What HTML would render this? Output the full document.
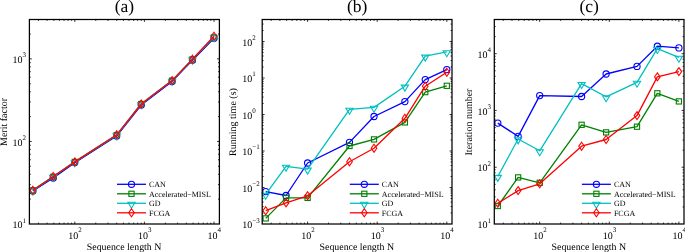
<!DOCTYPE html><html><head><meta charset="utf-8"><style>html,body{margin:0;padding:0;background:#fff;}svg{display:block;will-change:transform;}text{text-rendering:geometricPrecision;font-family:"Liberation Serif",serif;fill:#000;}</style></head><body>
<svg width="685" height="252" viewBox="0 0 685 252">
<rect width="685" height="252" fill="#fff"/>
<path d="M38.41,224.0v-1.4M38.41,19.5v1.4M47.10,224.0v-1.4M47.10,19.5v1.4M53.85,224.0v-1.4M53.85,19.5v1.4M59.36,224.0v-1.4M59.36,19.5v1.4M64.02,224.0v-1.4M64.02,19.5v1.4M68.06,224.0v-1.4M68.06,19.5v1.4M71.62,224.0v-1.4M71.62,19.5v1.4M74.80,224.0v-2.4M74.80,19.5v2.4M95.75,224.0v-1.4M95.75,19.5v1.4M108.01,224.0v-1.4M108.01,19.5v1.4M116.70,224.0v-1.4M116.70,19.5v1.4M123.45,224.0v-1.4M123.45,19.5v1.4M128.96,224.0v-1.4M128.96,19.5v1.4M133.62,224.0v-1.4M133.62,19.5v1.4M137.66,224.0v-1.4M137.66,19.5v1.4M141.22,224.0v-1.4M141.22,19.5v1.4M144.40,224.0v-2.4M144.40,19.5v2.4M165.35,224.0v-1.4M165.35,19.5v1.4M177.61,224.0v-1.4M177.61,19.5v1.4M186.30,224.0v-1.4M186.30,19.5v1.4M193.05,224.0v-1.4M193.05,19.5v1.4M198.56,224.0v-1.4M198.56,19.5v1.4M203.22,224.0v-1.4M203.22,19.5v1.4M207.26,224.0v-1.4M207.26,19.5v1.4M210.82,224.0v-1.4M210.82,19.5v1.4M214.00,224.0v-2.4M214.00,19.5v2.4M29.4,199.15h1.4M219.4,199.15h-1.4M29.4,184.61h1.4M219.4,184.61h-1.4M29.4,174.30h1.4M219.4,174.30h-1.4M29.4,166.30h1.4M219.4,166.30h-1.4M29.4,159.76h1.4M219.4,159.76h-1.4M29.4,154.23h1.4M219.4,154.23h-1.4M29.4,149.44h1.4M219.4,149.44h-1.4M29.4,145.22h1.4M219.4,145.22h-1.4M29.4,141.44h2.4M219.4,141.44h-2.4M29.4,116.59h1.4M219.4,116.59h-1.4M29.4,102.06h1.4M219.4,102.06h-1.4M29.4,91.74h1.4M219.4,91.74h-1.4M29.4,83.74h1.4M219.4,83.74h-1.4M29.4,77.20h1.4M219.4,77.20h-1.4M29.4,71.68h1.4M219.4,71.68h-1.4M29.4,66.89h1.4M219.4,66.89h-1.4M29.4,62.67h1.4M219.4,62.67h-1.4M29.4,58.89h2.4M219.4,58.89h-2.4M29.4,34.04h1.4M219.4,34.04h-1.4" stroke="#000" stroke-width="0.8" fill="none"/>
<path d="M32.90,191.00L53.24,178.00L74.80,162.60L116.70,136.00L141.22,105.00L172.10,81.40L192.44,60.20L214.00,38.30" stroke="#0000ff" stroke-width="1.3" fill="none" stroke-linejoin="round"/>
<circle cx="32.90" cy="191.00" r="3.1" fill="none" stroke="#0000ff" stroke-width="1.1"/><circle cx="53.24" cy="178.00" r="3.1" fill="none" stroke="#0000ff" stroke-width="1.1"/><circle cx="74.80" cy="162.60" r="3.1" fill="none" stroke="#0000ff" stroke-width="1.1"/><circle cx="116.70" cy="136.00" r="3.1" fill="none" stroke="#0000ff" stroke-width="1.1"/><circle cx="141.22" cy="105.00" r="3.1" fill="none" stroke="#0000ff" stroke-width="1.1"/><circle cx="172.10" cy="81.40" r="3.1" fill="none" stroke="#0000ff" stroke-width="1.1"/><circle cx="192.44" cy="60.20" r="3.1" fill="none" stroke="#0000ff" stroke-width="1.1"/><circle cx="214.00" cy="38.30" r="3.1" fill="none" stroke="#0000ff" stroke-width="1.1"/>
<path d="M32.90,190.40L53.24,176.80L74.80,161.90L116.70,135.10L141.22,104.00L172.10,80.60L192.44,59.40L214.00,37.40" stroke="#008000" stroke-width="1.3" fill="none" stroke-linejoin="round"/>
<rect x="30.30" y="187.80" width="5.20" height="5.20" fill="none" stroke="#008000" stroke-width="1.1"/><rect x="50.64" y="174.20" width="5.20" height="5.20" fill="none" stroke="#008000" stroke-width="1.1"/><rect x="72.20" y="159.30" width="5.20" height="5.20" fill="none" stroke="#008000" stroke-width="1.1"/><rect x="114.10" y="132.50" width="5.20" height="5.20" fill="none" stroke="#008000" stroke-width="1.1"/><rect x="138.62" y="101.40" width="5.20" height="5.20" fill="none" stroke="#008000" stroke-width="1.1"/><rect x="169.50" y="78.00" width="5.20" height="5.20" fill="none" stroke="#008000" stroke-width="1.1"/><rect x="189.84" y="56.80" width="5.20" height="5.20" fill="none" stroke="#008000" stroke-width="1.1"/><rect x="211.40" y="34.80" width="5.20" height="5.20" fill="none" stroke="#008000" stroke-width="1.1"/>
<path d="M32.90,190.20L53.24,176.50L74.80,161.80L116.70,135.00L141.22,103.90L172.10,80.50L192.44,59.20L214.00,36.90" stroke="#00bfbf" stroke-width="1.3" fill="none" stroke-linejoin="round"/>
<path d="M29.30,189.10L36.50,189.10L32.90,195.10Z" fill="none" stroke="#00bfbf" stroke-width="1.1" stroke-linejoin="miter"/><path d="M49.64,175.40L56.84,175.40L53.24,181.40Z" fill="none" stroke="#00bfbf" stroke-width="1.1" stroke-linejoin="miter"/><path d="M71.20,160.70L78.40,160.70L74.80,166.70Z" fill="none" stroke="#00bfbf" stroke-width="1.1" stroke-linejoin="miter"/><path d="M113.10,133.90L120.30,133.90L116.70,139.90Z" fill="none" stroke="#00bfbf" stroke-width="1.1" stroke-linejoin="miter"/><path d="M137.62,102.80L144.82,102.80L141.22,108.80Z" fill="none" stroke="#00bfbf" stroke-width="1.1" stroke-linejoin="miter"/><path d="M168.50,79.40L175.70,79.40L172.10,85.40Z" fill="none" stroke="#00bfbf" stroke-width="1.1" stroke-linejoin="miter"/><path d="M188.84,58.10L196.04,58.10L192.44,64.10Z" fill="none" stroke="#00bfbf" stroke-width="1.1" stroke-linejoin="miter"/><path d="M210.40,35.80L217.60,35.80L214.00,41.80Z" fill="none" stroke="#00bfbf" stroke-width="1.1" stroke-linejoin="miter"/>
<path d="M32.90,190.30L53.24,176.50L74.80,161.90L116.70,134.80L141.22,104.00L172.10,80.60L192.44,59.30L214.00,36.30" stroke="#ff0000" stroke-width="1.3" fill="none" stroke-linejoin="round"/>
<path d="M32.90,186.30L35.70,190.30L32.90,194.30L30.10,190.30Z" fill="none" stroke="#ff0000" stroke-width="1.1"/><path d="M53.24,172.50L56.04,176.50L53.24,180.50L50.44,176.50Z" fill="none" stroke="#ff0000" stroke-width="1.1"/><path d="M74.80,157.90L77.60,161.90L74.80,165.90L72.00,161.90Z" fill="none" stroke="#ff0000" stroke-width="1.1"/><path d="M116.70,130.80L119.50,134.80L116.70,138.80L113.90,134.80Z" fill="none" stroke="#ff0000" stroke-width="1.1"/><path d="M141.22,100.00L144.02,104.00L141.22,108.00L138.42,104.00Z" fill="none" stroke="#ff0000" stroke-width="1.1"/><path d="M172.10,76.60L174.90,80.60L172.10,84.60L169.30,80.60Z" fill="none" stroke="#ff0000" stroke-width="1.1"/><path d="M192.44,55.30L195.24,59.30L192.44,63.30L189.64,59.30Z" fill="none" stroke="#ff0000" stroke-width="1.1"/><path d="M214.00,32.30L216.80,36.30L214.00,40.30L211.20,36.30Z" fill="none" stroke="#ff0000" stroke-width="1.1"/>
<rect x="29.4" y="19.5" width="190.00" height="204.50" fill="none" stroke="#000" stroke-width="1.25"/>
<text x="75.10" y="238.9" font-size="10" text-anchor="middle">10<tspan font-size="7" dy="-6.8">2</tspan></text>
<text x="144.70" y="238.9" font-size="10" text-anchor="middle">10<tspan font-size="7" dy="-6.8">3</tspan></text>
<text x="214.30" y="238.9" font-size="10" text-anchor="middle">10<tspan font-size="7" dy="-6.8">4</tspan></text>
<text x="26.10" y="228.10" font-size="10" text-anchor="end">10<tspan font-size="7" dy="-5.6">1</tspan></text>
<text x="26.10" y="145.54" font-size="10" text-anchor="end">10<tspan font-size="7" dy="-5.6">2</tspan></text>
<text x="26.10" y="62.99" font-size="10" text-anchor="end">10<tspan font-size="7" dy="-5.6">3</tspan></text>
<text x="124.40" y="11.8" font-size="17.5" text-anchor="middle">(a)</text>
<text x="124.10" y="249.8" font-size="9.9" text-anchor="middle">Sequence length N</text>
<text x="6.9" y="122" font-size="10" text-anchor="middle" transform="rotate(-90 6.9 122)">Merit factor</text>
<path d="M117.00,184.30h29" stroke="#0000ff" stroke-width="1.3"/>
<circle cx="131.50" cy="184.30" r="3.1" fill="none" stroke="#0000ff" stroke-width="1.1"/>
<text x="149.00" y="187.10" font-size="8">CAN</text>
<path d="M117.00,193.80h29" stroke="#008000" stroke-width="1.3"/>
<rect x="128.90" y="191.20" width="5.20" height="5.20" fill="none" stroke="#008000" stroke-width="1.1"/>
<text x="149.00" y="196.60" font-size="8">Accelerated−MISL</text>
<path d="M117.00,203.30h29" stroke="#00bfbf" stroke-width="1.3"/>
<path d="M127.90,202.20L135.10,202.20L131.50,208.20Z" fill="none" stroke="#00bfbf" stroke-width="1.1" stroke-linejoin="miter"/>
<text x="149.00" y="206.10" font-size="8">GD</text>
<path d="M117.00,212.80h29" stroke="#ff0000" stroke-width="1.3"/>
<path d="M131.50,208.80L134.30,212.80L131.50,216.80L128.70,212.80Z" fill="none" stroke="#ff0000" stroke-width="1.1"/>
<text x="149.00" y="215.60" font-size="8">FCGA</text>
<path d="M271.21,224.0v-1.4M271.21,19.5v1.4M279.90,224.0v-1.4M279.90,19.5v1.4M286.65,224.0v-1.4M286.65,19.5v1.4M292.16,224.0v-1.4M292.16,19.5v1.4M296.82,224.0v-1.4M296.82,19.5v1.4M300.86,224.0v-1.4M300.86,19.5v1.4M304.42,224.0v-1.4M304.42,19.5v1.4M307.60,224.0v-2.4M307.60,19.5v2.4M328.55,224.0v-1.4M328.55,19.5v1.4M340.81,224.0v-1.4M340.81,19.5v1.4M349.50,224.0v-1.4M349.50,19.5v1.4M356.25,224.0v-1.4M356.25,19.5v1.4M361.76,224.0v-1.4M361.76,19.5v1.4M366.42,224.0v-1.4M366.42,19.5v1.4M370.46,224.0v-1.4M370.46,19.5v1.4M374.02,224.0v-1.4M374.02,19.5v1.4M377.20,224.0v-2.4M377.20,19.5v2.4M398.15,224.0v-1.4M398.15,19.5v1.4M410.41,224.0v-1.4M410.41,19.5v1.4M419.10,224.0v-1.4M419.10,19.5v1.4M425.85,224.0v-1.4M425.85,19.5v1.4M431.36,224.0v-1.4M431.36,19.5v1.4M436.02,224.0v-1.4M436.02,19.5v1.4M440.06,224.0v-1.4M440.06,19.5v1.4M443.62,224.0v-1.4M443.62,19.5v1.4M446.80,224.0v-2.4M446.80,19.5v2.4M262.2,213.01h1.4M452.0,213.01h-1.4M262.2,206.58h1.4M452.0,206.58h-1.4M262.2,202.02h1.4M452.0,202.02h-1.4M262.2,198.48h1.4M452.0,198.48h-1.4M262.2,195.59h1.4M452.0,195.59h-1.4M262.2,193.15h1.4M452.0,193.15h-1.4M262.2,191.03h1.4M452.0,191.03h-1.4M262.2,189.17h1.4M452.0,189.17h-1.4M262.2,187.50h2.4M452.0,187.50h-2.4M262.2,176.51h1.4M452.0,176.51h-1.4M262.2,170.08h1.4M452.0,170.08h-1.4M262.2,165.52h1.4M452.0,165.52h-1.4M262.2,161.98h1.4M452.0,161.98h-1.4M262.2,159.09h1.4M452.0,159.09h-1.4M262.2,156.65h1.4M452.0,156.65h-1.4M262.2,154.53h1.4M452.0,154.53h-1.4M262.2,152.66h1.4M452.0,152.66h-1.4M262.2,150.99h2.4M452.0,150.99h-2.4M262.2,140.00h1.4M452.0,140.00h-1.4M262.2,133.57h1.4M452.0,133.57h-1.4M262.2,129.01h1.4M452.0,129.01h-1.4M262.2,125.48h1.4M452.0,125.48h-1.4M262.2,122.59h1.4M452.0,122.59h-1.4M262.2,120.14h1.4M452.0,120.14h-1.4M262.2,118.02h1.4M452.0,118.02h-1.4M262.2,116.16h1.4M452.0,116.16h-1.4M262.2,114.49h2.4M452.0,114.49h-2.4M262.2,103.50h1.4M452.0,103.50h-1.4M262.2,97.07h1.4M452.0,97.07h-1.4M262.2,92.51h1.4M452.0,92.51h-1.4M262.2,88.97h1.4M452.0,88.97h-1.4M262.2,86.08h1.4M452.0,86.08h-1.4M262.2,83.64h1.4M452.0,83.64h-1.4M262.2,81.52h1.4M452.0,81.52h-1.4M262.2,79.65h1.4M452.0,79.65h-1.4M262.2,77.98h2.4M452.0,77.98h-2.4M262.2,66.99h1.4M452.0,66.99h-1.4M262.2,60.57h1.4M452.0,60.57h-1.4M262.2,56.00h1.4M452.0,56.00h-1.4M262.2,52.47h1.4M452.0,52.47h-1.4M262.2,49.58h1.4M452.0,49.58h-1.4M262.2,47.13h1.4M452.0,47.13h-1.4M262.2,45.02h1.4M452.0,45.02h-1.4M262.2,43.15h1.4M452.0,43.15h-1.4M262.2,41.48h2.4M452.0,41.48h-2.4M262.2,30.49h1.4M452.0,30.49h-1.4M262.2,24.06h1.4M452.0,24.06h-1.4" stroke="#000" stroke-width="0.8" fill="none"/>
<path d="M265.70,191.60L286.04,195.50L307.60,163.00L349.50,142.40L374.02,116.50L404.90,101.60L425.24,79.60L446.80,69.60" stroke="#0000ff" stroke-width="1.3" fill="none" stroke-linejoin="round"/>
<circle cx="265.70" cy="191.60" r="3.1" fill="none" stroke="#0000ff" stroke-width="1.1"/><circle cx="286.04" cy="195.50" r="3.1" fill="none" stroke="#0000ff" stroke-width="1.1"/><circle cx="307.60" cy="163.00" r="3.1" fill="none" stroke="#0000ff" stroke-width="1.1"/><circle cx="349.50" cy="142.40" r="3.1" fill="none" stroke="#0000ff" stroke-width="1.1"/><circle cx="374.02" cy="116.50" r="3.1" fill="none" stroke="#0000ff" stroke-width="1.1"/><circle cx="404.90" cy="101.60" r="3.1" fill="none" stroke="#0000ff" stroke-width="1.1"/><circle cx="425.24" cy="79.60" r="3.1" fill="none" stroke="#0000ff" stroke-width="1.1"/><circle cx="446.80" cy="69.60" r="3.1" fill="none" stroke="#0000ff" stroke-width="1.1"/>
<path d="M265.70,218.40L286.04,197.90L307.60,197.90L349.50,146.00L374.02,139.40L404.90,122.40L425.24,92.10L446.80,85.80" stroke="#008000" stroke-width="1.3" fill="none" stroke-linejoin="round"/>
<rect x="263.10" y="215.80" width="5.20" height="5.20" fill="none" stroke="#008000" stroke-width="1.1"/><rect x="283.44" y="195.30" width="5.20" height="5.20" fill="none" stroke="#008000" stroke-width="1.1"/><rect x="305.00" y="195.30" width="5.20" height="5.20" fill="none" stroke="#008000" stroke-width="1.1"/><rect x="346.90" y="143.40" width="5.20" height="5.20" fill="none" stroke="#008000" stroke-width="1.1"/><rect x="371.42" y="136.80" width="5.20" height="5.20" fill="none" stroke="#008000" stroke-width="1.1"/><rect x="402.30" y="119.80" width="5.20" height="5.20" fill="none" stroke="#008000" stroke-width="1.1"/><rect x="422.64" y="89.50" width="5.20" height="5.20" fill="none" stroke="#008000" stroke-width="1.1"/><rect x="444.20" y="83.20" width="5.20" height="5.20" fill="none" stroke="#008000" stroke-width="1.1"/>
<path d="M265.70,194.30L286.04,166.40L307.60,169.20L349.50,109.30L374.02,107.40L404.90,86.20L425.24,56.20L446.80,51.80" stroke="#00bfbf" stroke-width="1.3" fill="none" stroke-linejoin="round"/>
<path d="M262.10,193.20L269.30,193.20L265.70,199.20Z" fill="none" stroke="#00bfbf" stroke-width="1.1" stroke-linejoin="miter"/><path d="M282.44,165.30L289.64,165.30L286.04,171.30Z" fill="none" stroke="#00bfbf" stroke-width="1.1" stroke-linejoin="miter"/><path d="M304.00,168.10L311.20,168.10L307.60,174.10Z" fill="none" stroke="#00bfbf" stroke-width="1.1" stroke-linejoin="miter"/><path d="M345.90,108.20L353.10,108.20L349.50,114.20Z" fill="none" stroke="#00bfbf" stroke-width="1.1" stroke-linejoin="miter"/><path d="M370.42,106.30L377.62,106.30L374.02,112.30Z" fill="none" stroke="#00bfbf" stroke-width="1.1" stroke-linejoin="miter"/><path d="M401.30,85.10L408.50,85.10L404.90,91.10Z" fill="none" stroke="#00bfbf" stroke-width="1.1" stroke-linejoin="miter"/><path d="M421.64,55.10L428.84,55.10L425.24,61.10Z" fill="none" stroke="#00bfbf" stroke-width="1.1" stroke-linejoin="miter"/><path d="M443.20,50.70L450.40,50.70L446.80,56.70Z" fill="none" stroke="#00bfbf" stroke-width="1.1" stroke-linejoin="miter"/>
<path d="M265.70,210.70L286.04,202.90L307.60,195.80L349.50,161.70L374.02,148.30L404.90,118.30L425.24,86.20L446.80,72.20" stroke="#ff0000" stroke-width="1.3" fill="none" stroke-linejoin="round"/>
<path d="M265.70,206.70L268.50,210.70L265.70,214.70L262.90,210.70Z" fill="none" stroke="#ff0000" stroke-width="1.1"/><path d="M286.04,198.90L288.84,202.90L286.04,206.90L283.24,202.90Z" fill="none" stroke="#ff0000" stroke-width="1.1"/><path d="M307.60,191.80L310.40,195.80L307.60,199.80L304.80,195.80Z" fill="none" stroke="#ff0000" stroke-width="1.1"/><path d="M349.50,157.70L352.30,161.70L349.50,165.70L346.70,161.70Z" fill="none" stroke="#ff0000" stroke-width="1.1"/><path d="M374.02,144.30L376.82,148.30L374.02,152.30L371.22,148.30Z" fill="none" stroke="#ff0000" stroke-width="1.1"/><path d="M404.90,114.30L407.70,118.30L404.90,122.30L402.10,118.30Z" fill="none" stroke="#ff0000" stroke-width="1.1"/><path d="M425.24,82.20L428.04,86.20L425.24,90.20L422.44,86.20Z" fill="none" stroke="#ff0000" stroke-width="1.1"/><path d="M446.80,68.20L449.60,72.20L446.80,76.20L444.00,72.20Z" fill="none" stroke="#ff0000" stroke-width="1.1"/>
<rect x="262.2" y="19.5" width="189.80" height="204.50" fill="none" stroke="#000" stroke-width="1.25"/>
<text x="307.90" y="238.9" font-size="10" text-anchor="middle">10<tspan font-size="7" dy="-6.8">2</tspan></text>
<text x="377.50" y="238.9" font-size="10" text-anchor="middle">10<tspan font-size="7" dy="-6.8">3</tspan></text>
<text x="447.10" y="238.9" font-size="10" text-anchor="middle">10<tspan font-size="7" dy="-6.8">4</tspan></text>
<text x="242.2" y="228.10" font-size="10">10<tspan font-size="7" dy="-5.6">−3</tspan></text>
<text x="242.2" y="191.60" font-size="10">10<tspan font-size="7" dy="-5.6">−2</tspan></text>
<text x="242.2" y="155.09" font-size="10">10<tspan font-size="7" dy="-5.6">−1</tspan></text>
<text x="242.2" y="118.59" font-size="10">10<tspan font-size="7" dy="-5.6">0</tspan></text>
<text x="242.2" y="82.08" font-size="10">10<tspan font-size="7" dy="-5.6">1</tspan></text>
<text x="242.2" y="45.58" font-size="10">10<tspan font-size="7" dy="-5.6">2</tspan></text>
<text x="357.10" y="11.8" font-size="17.5" text-anchor="middle">(b)</text>
<text x="356.80" y="249.8" font-size="9.9" text-anchor="middle">Sequence length N</text>
<text x="235.9" y="122" font-size="10" text-anchor="middle" transform="rotate(-90 235.9 122)">Running time (s)</text>
<path d="M349.80,184.30h29" stroke="#0000ff" stroke-width="1.3"/>
<circle cx="364.30" cy="184.30" r="3.1" fill="none" stroke="#0000ff" stroke-width="1.1"/>
<text x="381.80" y="187.10" font-size="8">CAN</text>
<path d="M349.80,193.80h29" stroke="#008000" stroke-width="1.3"/>
<rect x="361.70" y="191.20" width="5.20" height="5.20" fill="none" stroke="#008000" stroke-width="1.1"/>
<text x="381.80" y="196.60" font-size="8">Accelerated−MISL</text>
<path d="M349.80,203.30h29" stroke="#00bfbf" stroke-width="1.3"/>
<path d="M360.70,202.20L367.90,202.20L364.30,208.20Z" fill="none" stroke="#00bfbf" stroke-width="1.1" stroke-linejoin="miter"/>
<text x="381.80" y="206.10" font-size="8">GD</text>
<path d="M349.80,212.80h29" stroke="#ff0000" stroke-width="1.3"/>
<path d="M364.30,208.80L367.10,212.80L364.30,216.80L361.50,212.80Z" fill="none" stroke="#ff0000" stroke-width="1.1"/>
<text x="381.80" y="215.60" font-size="8">FCGA</text>
<path d="M503.31,224.0v-1.4M503.31,19.5v1.4M512.00,224.0v-1.4M512.00,19.5v1.4M518.75,224.0v-1.4M518.75,19.5v1.4M524.26,224.0v-1.4M524.26,19.5v1.4M528.92,224.0v-1.4M528.92,19.5v1.4M532.96,224.0v-1.4M532.96,19.5v1.4M536.52,224.0v-1.4M536.52,19.5v1.4M539.70,224.0v-2.4M539.70,19.5v2.4M560.65,224.0v-1.4M560.65,19.5v1.4M572.91,224.0v-1.4M572.91,19.5v1.4M581.60,224.0v-1.4M581.60,19.5v1.4M588.35,224.0v-1.4M588.35,19.5v1.4M593.86,224.0v-1.4M593.86,19.5v1.4M598.52,224.0v-1.4M598.52,19.5v1.4M602.56,224.0v-1.4M602.56,19.5v1.4M606.12,224.0v-1.4M606.12,19.5v1.4M609.30,224.0v-2.4M609.30,19.5v2.4M630.25,224.0v-1.4M630.25,19.5v1.4M642.51,224.0v-1.4M642.51,19.5v1.4M651.20,224.0v-1.4M651.20,19.5v1.4M657.95,224.0v-1.4M657.95,19.5v1.4M663.46,224.0v-1.4M663.46,19.5v1.4M668.12,224.0v-1.4M668.12,19.5v1.4M672.16,224.0v-1.4M672.16,19.5v1.4M675.72,224.0v-1.4M675.72,19.5v1.4M678.90,224.0v-2.4M678.90,19.5v2.4M494.3,206.91h1.4M684.0,206.91h-1.4M494.3,196.91h1.4M684.0,196.91h-1.4M494.3,189.82h1.4M684.0,189.82h-1.4M494.3,184.32h1.4M684.0,184.32h-1.4M494.3,179.82h1.4M684.0,179.82h-1.4M494.3,176.02h1.4M684.0,176.02h-1.4M494.3,172.73h1.4M684.0,172.73h-1.4M494.3,169.82h1.4M684.0,169.82h-1.4M494.3,167.23h2.4M684.0,167.23h-2.4M494.3,150.14h1.4M684.0,150.14h-1.4M494.3,140.14h1.4M684.0,140.14h-1.4M494.3,133.05h1.4M684.0,133.05h-1.4M494.3,127.54h1.4M684.0,127.54h-1.4M494.3,123.05h1.4M684.0,123.05h-1.4M494.3,119.25h1.4M684.0,119.25h-1.4M494.3,115.96h1.4M684.0,115.96h-1.4M494.3,113.05h1.4M684.0,113.05h-1.4M494.3,110.45h2.4M684.0,110.45h-2.4M494.3,93.36h1.4M684.0,93.36h-1.4M494.3,83.37h1.4M684.0,83.37h-1.4M494.3,76.27h1.4M684.0,76.27h-1.4M494.3,70.77h1.4M684.0,70.77h-1.4M494.3,66.28h1.4M684.0,66.28h-1.4M494.3,62.48h1.4M684.0,62.48h-1.4M494.3,59.18h1.4M684.0,59.18h-1.4M494.3,56.28h1.4M684.0,56.28h-1.4M494.3,53.68h2.4M684.0,53.68h-2.4M494.3,36.59h1.4M684.0,36.59h-1.4M494.3,26.59h1.4M684.0,26.59h-1.4" stroke="#000" stroke-width="0.8" fill="none"/>
<path d="M497.80,123.10L518.14,136.40L539.70,95.60L581.60,96.50L606.12,74.00L637.00,66.40L657.34,46.20L678.90,47.90" stroke="#0000ff" stroke-width="1.3" fill="none" stroke-linejoin="round"/>
<circle cx="497.80" cy="123.10" r="3.1" fill="none" stroke="#0000ff" stroke-width="1.1"/><circle cx="518.14" cy="136.40" r="3.1" fill="none" stroke="#0000ff" stroke-width="1.1"/><circle cx="539.70" cy="95.60" r="3.1" fill="none" stroke="#0000ff" stroke-width="1.1"/><circle cx="581.60" cy="96.50" r="3.1" fill="none" stroke="#0000ff" stroke-width="1.1"/><circle cx="606.12" cy="74.00" r="3.1" fill="none" stroke="#0000ff" stroke-width="1.1"/><circle cx="637.00" cy="66.40" r="3.1" fill="none" stroke="#0000ff" stroke-width="1.1"/><circle cx="657.34" cy="46.20" r="3.1" fill="none" stroke="#0000ff" stroke-width="1.1"/><circle cx="678.90" cy="47.90" r="3.1" fill="none" stroke="#0000ff" stroke-width="1.1"/>
<path d="M497.80,206.00L518.14,177.40L539.70,182.80L581.60,124.80L606.12,132.40L637.00,126.70L657.34,93.30L678.90,101.40" stroke="#008000" stroke-width="1.3" fill="none" stroke-linejoin="round"/>
<rect x="495.20" y="203.40" width="5.20" height="5.20" fill="none" stroke="#008000" stroke-width="1.1"/><rect x="515.54" y="174.80" width="5.20" height="5.20" fill="none" stroke="#008000" stroke-width="1.1"/><rect x="537.10" y="180.20" width="5.20" height="5.20" fill="none" stroke="#008000" stroke-width="1.1"/><rect x="579.00" y="122.20" width="5.20" height="5.20" fill="none" stroke="#008000" stroke-width="1.1"/><rect x="603.52" y="129.80" width="5.20" height="5.20" fill="none" stroke="#008000" stroke-width="1.1"/><rect x="634.40" y="124.10" width="5.20" height="5.20" fill="none" stroke="#008000" stroke-width="1.1"/><rect x="654.74" y="90.70" width="5.20" height="5.20" fill="none" stroke="#008000" stroke-width="1.1"/><rect x="676.30" y="98.80" width="5.20" height="5.20" fill="none" stroke="#008000" stroke-width="1.1"/>
<path d="M497.80,176.50L518.14,139.00L539.70,150.80L581.60,83.60L606.12,96.80L637.00,82.40L657.34,48.60L678.90,57.40" stroke="#00bfbf" stroke-width="1.3" fill="none" stroke-linejoin="round"/>
<path d="M494.20,175.40L501.40,175.40L497.80,181.40Z" fill="none" stroke="#00bfbf" stroke-width="1.1" stroke-linejoin="miter"/><path d="M514.54,137.90L521.74,137.90L518.14,143.90Z" fill="none" stroke="#00bfbf" stroke-width="1.1" stroke-linejoin="miter"/><path d="M536.10,149.70L543.30,149.70L539.70,155.70Z" fill="none" stroke="#00bfbf" stroke-width="1.1" stroke-linejoin="miter"/><path d="M578.00,82.50L585.20,82.50L581.60,88.50Z" fill="none" stroke="#00bfbf" stroke-width="1.1" stroke-linejoin="miter"/><path d="M602.52,95.70L609.72,95.70L606.12,101.70Z" fill="none" stroke="#00bfbf" stroke-width="1.1" stroke-linejoin="miter"/><path d="M633.40,81.30L640.60,81.30L637.00,87.30Z" fill="none" stroke="#00bfbf" stroke-width="1.1" stroke-linejoin="miter"/><path d="M653.74,47.50L660.94,47.50L657.34,53.50Z" fill="none" stroke="#00bfbf" stroke-width="1.1" stroke-linejoin="miter"/><path d="M675.30,56.30L682.50,56.30L678.90,62.30Z" fill="none" stroke="#00bfbf" stroke-width="1.1" stroke-linejoin="miter"/>
<path d="M497.80,203.30L518.14,190.60L539.70,183.80L581.60,146.20L606.12,139.50L637.00,115.60L657.34,76.90L678.90,71.60" stroke="#ff0000" stroke-width="1.3" fill="none" stroke-linejoin="round"/>
<path d="M497.80,199.30L500.60,203.30L497.80,207.30L495.00,203.30Z" fill="none" stroke="#ff0000" stroke-width="1.1"/><path d="M518.14,186.60L520.94,190.60L518.14,194.60L515.34,190.60Z" fill="none" stroke="#ff0000" stroke-width="1.1"/><path d="M539.70,179.80L542.50,183.80L539.70,187.80L536.90,183.80Z" fill="none" stroke="#ff0000" stroke-width="1.1"/><path d="M581.60,142.20L584.40,146.20L581.60,150.20L578.80,146.20Z" fill="none" stroke="#ff0000" stroke-width="1.1"/><path d="M606.12,135.50L608.92,139.50L606.12,143.50L603.32,139.50Z" fill="none" stroke="#ff0000" stroke-width="1.1"/><path d="M637.00,111.60L639.80,115.60L637.00,119.60L634.20,115.60Z" fill="none" stroke="#ff0000" stroke-width="1.1"/><path d="M657.34,72.90L660.14,76.90L657.34,80.90L654.54,76.90Z" fill="none" stroke="#ff0000" stroke-width="1.1"/><path d="M678.90,67.60L681.70,71.60L678.90,75.60L676.10,71.60Z" fill="none" stroke="#ff0000" stroke-width="1.1"/>
<rect x="494.3" y="19.5" width="189.70" height="204.50" fill="none" stroke="#000" stroke-width="1.25"/>
<text x="540.00" y="238.9" font-size="10" text-anchor="middle">10<tspan font-size="7" dy="-6.8">2</tspan></text>
<text x="609.60" y="238.9" font-size="10" text-anchor="middle">10<tspan font-size="7" dy="-6.8">3</tspan></text>
<text x="679.20" y="238.9" font-size="10" text-anchor="middle">10<tspan font-size="7" dy="-6.8">4</tspan></text>
<text x="491.00" y="228.10" font-size="10" text-anchor="end">10<tspan font-size="7" dy="-5.6">1</tspan></text>
<text x="491.00" y="171.33" font-size="10" text-anchor="end">10<tspan font-size="7" dy="-5.6">2</tspan></text>
<text x="491.00" y="114.55" font-size="10" text-anchor="end">10<tspan font-size="7" dy="-5.6">3</tspan></text>
<text x="491.00" y="57.78" font-size="10" text-anchor="end">10<tspan font-size="7" dy="-5.6">4</tspan></text>
<text x="589.15" y="11.8" font-size="17.5" text-anchor="middle">(c)</text>
<text x="588.85" y="249.8" font-size="9.9" text-anchor="middle">Sequence length N</text>
<text x="471.8" y="122" font-size="10" text-anchor="middle" transform="rotate(-90 471.8 122)">Iteration number</text>
<path d="M581.90,184.30h29" stroke="#0000ff" stroke-width="1.3"/>
<circle cx="596.40" cy="184.30" r="3.1" fill="none" stroke="#0000ff" stroke-width="1.1"/>
<text x="613.90" y="187.10" font-size="8">CAN</text>
<path d="M581.90,193.80h29" stroke="#008000" stroke-width="1.3"/>
<rect x="593.80" y="191.20" width="5.20" height="5.20" fill="none" stroke="#008000" stroke-width="1.1"/>
<text x="613.90" y="196.60" font-size="8">Accelerated−MISL</text>
<path d="M581.90,203.30h29" stroke="#00bfbf" stroke-width="1.3"/>
<path d="M592.80,202.20L600.00,202.20L596.40,208.20Z" fill="none" stroke="#00bfbf" stroke-width="1.1" stroke-linejoin="miter"/>
<text x="613.90" y="206.10" font-size="8">GD</text>
<path d="M581.90,212.80h29" stroke="#ff0000" stroke-width="1.3"/>
<path d="M596.40,208.80L599.20,212.80L596.40,216.80L593.60,212.80Z" fill="none" stroke="#ff0000" stroke-width="1.1"/>
<text x="613.90" y="215.60" font-size="8">FCGA</text>
</svg></body></html>
